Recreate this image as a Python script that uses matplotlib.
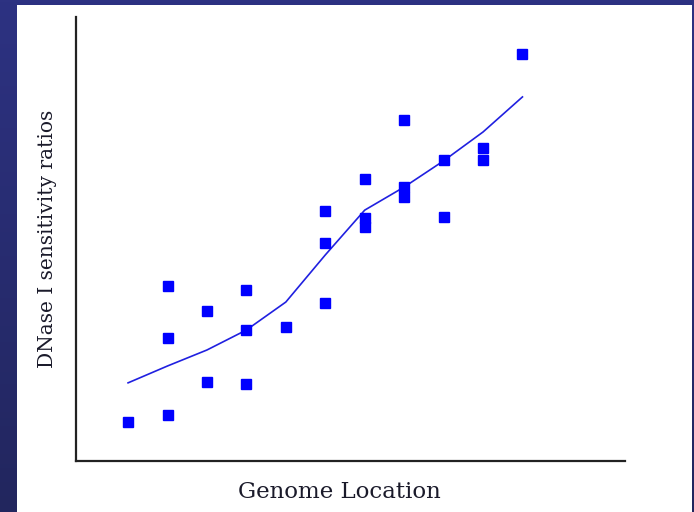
import matplotlib.pyplot as plt
from matplotlib.patches import Rectangle
import numpy as np

# measured sites along the genome (columns of replicates)
site_x = [1, 2, 2, 2, 3, 3, 4, 4, 4, 5, 6, 6, 6, 7, 7, 7, 8, 8, 8, 9, 9, 10, 10, 11]
ratio_y = [0.88, 3.94, 2.77, 1.04, 3.38, 1.78, 3.85, 2.95, 1.73, 3.02,
           5.63, 4.91, 3.56, 6.35, 5.47, 5.27, 7.68, 6.17, 5.95, 6.78, 5.50,
           7.05, 6.78, 9.17]

# smoothed trend
trend_x = [1, 2, 3, 4, 5, 6, 7, 8, 9, 10, 11]
trend_y = [1.76, 2.14, 2.50, 2.95, 3.58, 4.64, 5.65, 6.17, 6.76, 7.41, 8.20]

fig = plt.figure(figsize=(6.94, 5.12), dpi=100)

# navy slide backdrop with a white panel
grad = np.linspace(0, 1, 256).reshape(-1, 1)
bg = fig.add_axes([0, 0, 1, 1], zorder=-2)
bg.imshow(grad, aspect='auto', extent=[0, 1, 0, 1],
          cmap=plt.matplotlib.colors.LinearSegmentedColormap.from_list(
              'slide', ['#2d3282', '#22265e']), origin='upper')
bg.add_patch(Rectangle((17 / 694, 0), (692 - 17) / 694, (512 - 5) / 512,
                       transform=bg.transAxes, facecolor='white', edgecolor='none'))
bg.set_xlim(0, 1)
bg.set_ylim(0, 1)
bg.axis('off')

ax = fig.add_axes([76 / 694, 51 / 512, (625 - 76) / 694, (461 - 17) / 512])
ax.patch.set_alpha(0)
ax.plot(trend_x, trend_y, color='#2020e0', lw=1.2)
ax.plot(site_x, ratio_y, 's', color='#0000ff', ms=6.5, mec='#0000ff')

ax.set_xlim(-0.32, 13.6)
ax.set_ylim(0, 10)
ax.set_xticks([])
ax.set_yticks([])
for s in ['top', 'right']:
    ax.spines[s].set_visible(False)
for s in ['left', 'bottom']:
    ax.spines[s].set_linewidth(1.6)
    ax.spines[s].set_color('#222222')

ax.set_xlabel('Genome Location', family='DejaVu Serif', fontsize=16.5,
              color='#1a1a2a')
ax.xaxis.set_label_coords(0.479, -0.045, transform=ax.transAxes)
ax.xaxis.label.set_va('top')
ax.set_ylabel('DNase I sensitivity ratios', family='DejaVu Serif', fontsize=14.5,
              color='#1a1a2a', labelpad=14)

fig.savefig('out.png', dpi=100)
